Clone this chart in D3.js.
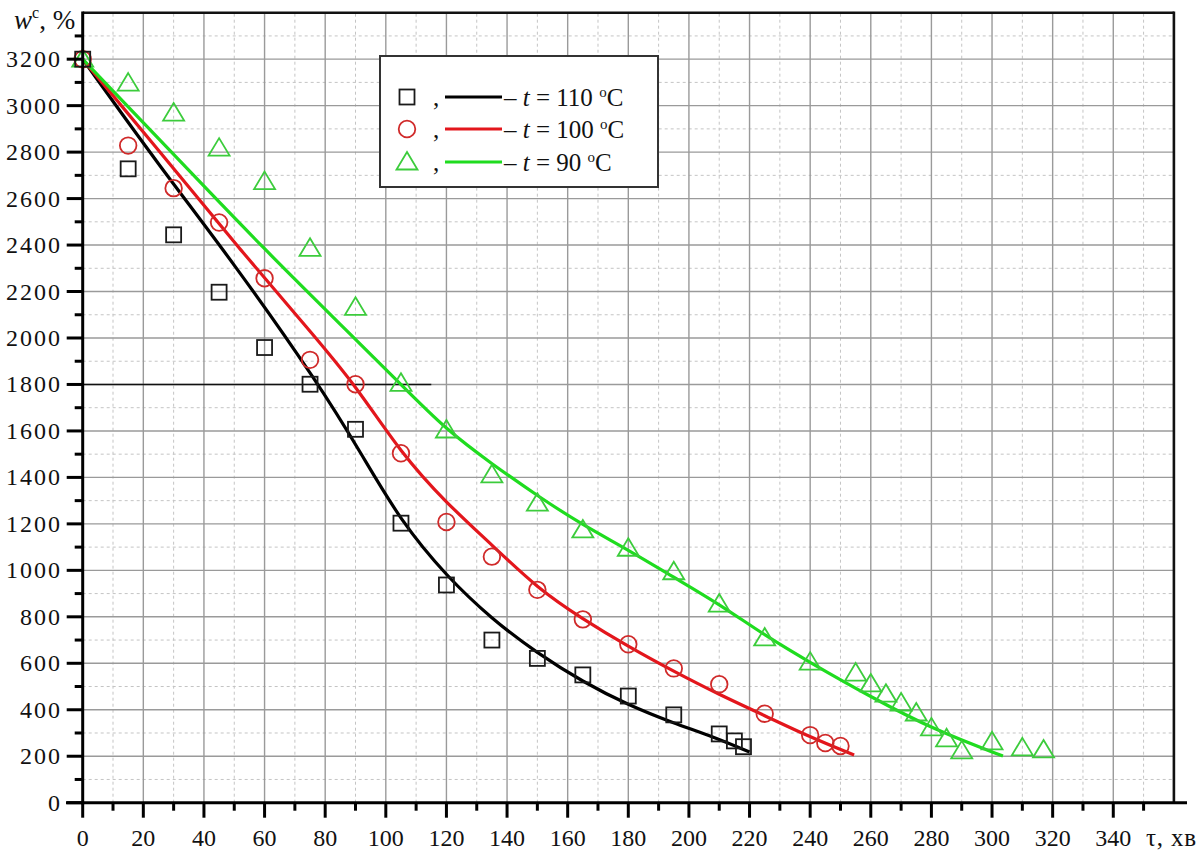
<!DOCTYPE html>
<html><head><meta charset="utf-8">
<script src="https://cdn.jsdelivr.net/npm/d3@7"></script>
<style>
html,body{margin:0;padding:0;background:#fff;}
text{font-family:"Liberation Serif","Times New Roman",serif;fill:#111;}
</style></head>
<body>
<svg id="chart" width="1203" height="852"></svg>
<script>
// ---- data ----
const timeSq = [0,15,30,45,60,75,90,105,120,135,150,165,180,195,210,215,218];
const wSq    = [3200,2728,2444,2197,1959,1801,1607,1203,937,700,621,550,459,378,296,266,241];

const timeCi = [0,15,30,45,60,75,90,105,120,135,150,165,180,195,210,225,240,245,250];
const wCi    = [3200,2828,2645,2497,2257,1906,1801,1504,1208,1059,916,789,682,578,510,383,291,257,244];

const timeTr = [0,15,30,45,60,75,90,105,120,135,150,165,180,195,210,225,240,255,260,265,270,275,280,285,290,300,310,317];
const wTr    = [3200,3097,2968,2817,2673,2386,2132,1805,1604,1411,1289,1174,1095,994,855,709,605,558,511,467,429,386,322,275,223,262,236,227];

const fitT110 = [0,25,50,78,92,105,120,135,150,165,180,195,208,220];
const fitW110 = [3200,2745,2320,1800,1500,1210,975,790,643,520,420,342,284,218];
const fitT100 = [0,30,52,75,90,105,120,135,150,165,180,195,210,225,240,254.5];
const fitW100 = [3200,2730,2379,2030,1797,1504,1289,1110,923,790,672,565,465,375,282,205];
const fitT90  = [0,30,60,90,105,120,135,151,165,180,195,210,225,240,260,281,303.6];
const fitW90  = [3200,2790,2380,1995,1800,1604,1458,1312,1195,1088,970,855,720,603,455,313,201];

const refLineT = [0,115];
const refLineW = [1800,1800];

const xTicks = [0,20,40,60,80,100,120,140,160,180,200,220,240,260,280,300,320,340];
const yTicks = [0,200,400,600,800,1000,1200,1400,1600,1800,2000,2200,2400,2600,2800,3000,3200];
const legendLabels = ["110","100","90"];

// ---- layout ----
const svg = d3.select("#chart");
const x = d3.scaleLinear().domain([0,360]).range([82.7,1173.9]);
const y = d3.scaleLinear().domain([0,3400]).range([802.7,12.7]);
const X0 = x(0), X1 = x(360), Y0 = y(0), Y1 = y(3400);

const grid = svg.append("g");
grid.selectAll(".mx").data(d3.range(10,360,20)).join("line")
  .attr("x1",d=>x(d)).attr("x2",d=>x(d)).attr("y1",Y0).attr("y2",Y1)
  .attr("stroke","#c4c4c4").attr("stroke-width",1).attr("stroke-dasharray","3,3");
grid.selectAll(".my").data(d3.range(100,3400,200)).join("line")
  .attr("y1",d=>y(d)).attr("y2",d=>y(d)).attr("x1",X0).attr("x2",X1)
  .attr("stroke","#c4c4c4").attr("stroke-width",1).attr("stroke-dasharray","3,3");
grid.selectAll(".Mx").data(d3.range(20,360,20)).join("line")
  .attr("x1",d=>x(d)).attr("x2",d=>x(d)).attr("y1",Y0).attr("y2",Y1)
  .attr("stroke","#9a9a9a").attr("stroke-width",1.4);
grid.selectAll(".My").data(d3.range(200,3400,200)).join("line")
  .attr("y1",d=>y(d)).attr("y2",d=>y(d)).attr("x1",X0).attr("x2",X1)
  .attr("stroke","#9a9a9a").attr("stroke-width",1.4);

// reference line at 1800
svg.append("line").attr("x1",x(refLineT[0])).attr("x2",x(refLineT[1]))
  .attr("y1",y(refLineW[0])).attr("y2",y(refLineW[1]))
  .attr("stroke","#111").attr("stroke-width",1.6);

// fitted curves
const line = d3.line().x(d=>x(d[0])).y(d=>y(d[1])).curve(d3.curveBasis);
const fits = [
  {t:fitT110,w:fitW110,c:"#000000"},
  {t:fitT100,w:fitW100,c:"#e3161c"},
  {t:fitT90, w:fitW90, c:"#1fdc1f"}
];
fits.forEach(f=>{
  svg.append("path").datum(f.t.map((t,i)=>[t,f.w[i]]))
    .attr("d",line).attr("fill","none").attr("stroke",f.c).attr("stroke-width",3.2)
    .attr("stroke-linejoin","round");
});

// markers
const sqCol="#1a1a1a", ciCol="#d02a2a", trCol="#3ccc3c";
function drawSquare(g,cx,cy){ g.append("rect").attr("x",cx-7.5).attr("y",cy-7.5).attr("width",15).attr("height",15)
  .attr("fill","none").attr("stroke",sqCol).attr("stroke-width",1.8); }
function drawCircle(g,cx,cy){ g.append("circle").attr("cx",cx).attr("cy",cy).attr("r",8.3)
  .attr("fill","none").attr("stroke",ciCol).attr("stroke-width",1.8); }
function drawTri(g,cx,cy){ g.append("path").attr("d",`M${cx},${cy-10}L${cx+10.5},${cy+7.5}L${cx-10.5},${cy+7.5}Z`)
  .attr("fill","none").attr("stroke",trCol).attr("stroke-width",1.8); }
const mk = svg.append("g");
timeTr.forEach((t,i)=>drawTri(mk,x(t),y(wTr[i])));
timeCi.forEach((t,i)=>drawCircle(mk,x(t),y(wCi[i])));
timeSq.forEach((t,i)=>drawSquare(mk,x(t),y(wSq[i])));

// frame
svg.append("line").attr("x1",X0).attr("x2",X1).attr("y1",Y1).attr("y2",Y1).attr("stroke","#111").attr("stroke-width",2.6);
svg.append("line").attr("x1",X1).attr("x2",X1).attr("y1",Y1-1.3).attr("y2",Y0).attr("stroke","#111").attr("stroke-width",2.6);

// axes
const xAxis = svg.append("g");
xAxis.append("line").attr("x1",66).attr("x2",1187).attr("y1",Y0).attr("y2",Y0).attr("stroke","#000").attr("stroke-width",3);
xAxis.selectAll(".xt").data(xTicks).join("line").attr("x1",d=>x(d)).attr("x2",d=>x(d))
  .attr("y1",Y0).attr("y2",Y0+15).attr("stroke","#000").attr("stroke-width",3);
xAxis.selectAll(".xm").data(d3.range(10,360,20)).join("line").attr("x1",d=>x(d)).attr("x2",d=>x(d))
  .attr("y1",Y0).attr("y2",Y0+8).attr("stroke","#000").attr("stroke-width",3);
xAxis.selectAll(".xl").data(xTicks).join("text").attr("x",d=>x(d)).attr("y",846)
  .attr("text-anchor","middle").attr("font-size",24).text(d=>d);
xAxis.append("text").attr("x",1146).attr("y",846).attr("font-size",25).attr("letter-spacing",0.8).text("τ, хв");

const yAxis = svg.append("g");
yAxis.append("line").attr("x1",X0).attr("x2",X0).attr("y1",Y1-1.3).attr("y2",Y0+1.5).attr("stroke","#000").attr("stroke-width",3);
yAxis.selectAll(".yt").data(yTicks).join("line").attr("x1",X0-16).attr("x2",X0)
  .attr("y1",d=>y(d)).attr("y2",d=>y(d)).attr("stroke","#000").attr("stroke-width",3);
yAxis.selectAll(".ym").data(d3.range(100,3400,200)).join("line").attr("x1",X0-8).attr("x2",X0)
  .attr("y1",d=>y(d)).attr("y2",d=>y(d)).attr("stroke","#000").attr("stroke-width",3);
yAxis.selectAll(".yl").data(yTicks).join("text").attr("x",62).attr("y",d=>y(d)+8)
  .attr("text-anchor","end").attr("font-size",24).attr("letter-spacing",2).text(d=>d);
const yt = yAxis.append("text").attr("x",14).attr("y",29).attr("font-size",27);
yt.append("tspan").attr("font-style","italic").text("w");
yt.append("tspan").attr("dy",-11).attr("font-size",16).text("c");
yt.append("tspan").attr("dy",11).text(", %");

// legend
const lg = svg.append("g");
lg.append("rect").attr("x",380).attr("y",56).attr("width",278).attr("height",131)
  .attr("fill","#fff").attr("stroke","#333").attr("stroke-width",2);
const rowsY = [97,129,162];
const cols = ["#000000","#e3161c","#1fdc1f"];
drawSquare(lg,407,rowsY[0]);
drawCircle(lg,407,rowsY[1]);
drawTri(lg,407,rowsY[2]);
legendLabels.forEach((lab,i)=>{
  const cy = rowsY[i];
  lg.append("text").attr("x",433).attr("y",cy+9).attr("font-size",25).text(",");
  lg.append("line").attr("x1",445).attr("x2",502).attr("y1",cy).attr("y2",cy)
    .attr("stroke",cols[i]).attr("stroke-width",3.2);
  const t = lg.append("text").attr("x",504).attr("y",cy+9).attr("font-size",25);
  t.append("tspan").text("– ");
  t.append("tspan").attr("font-style","italic").text("t");
  t.append("tspan").text(" = " + lab + " ");
  t.append("tspan").attr("dy",-9).attr("font-size",15).text("o");
  t.append("tspan").attr("dy",9).text("C");
});
</script>
</body></html>
